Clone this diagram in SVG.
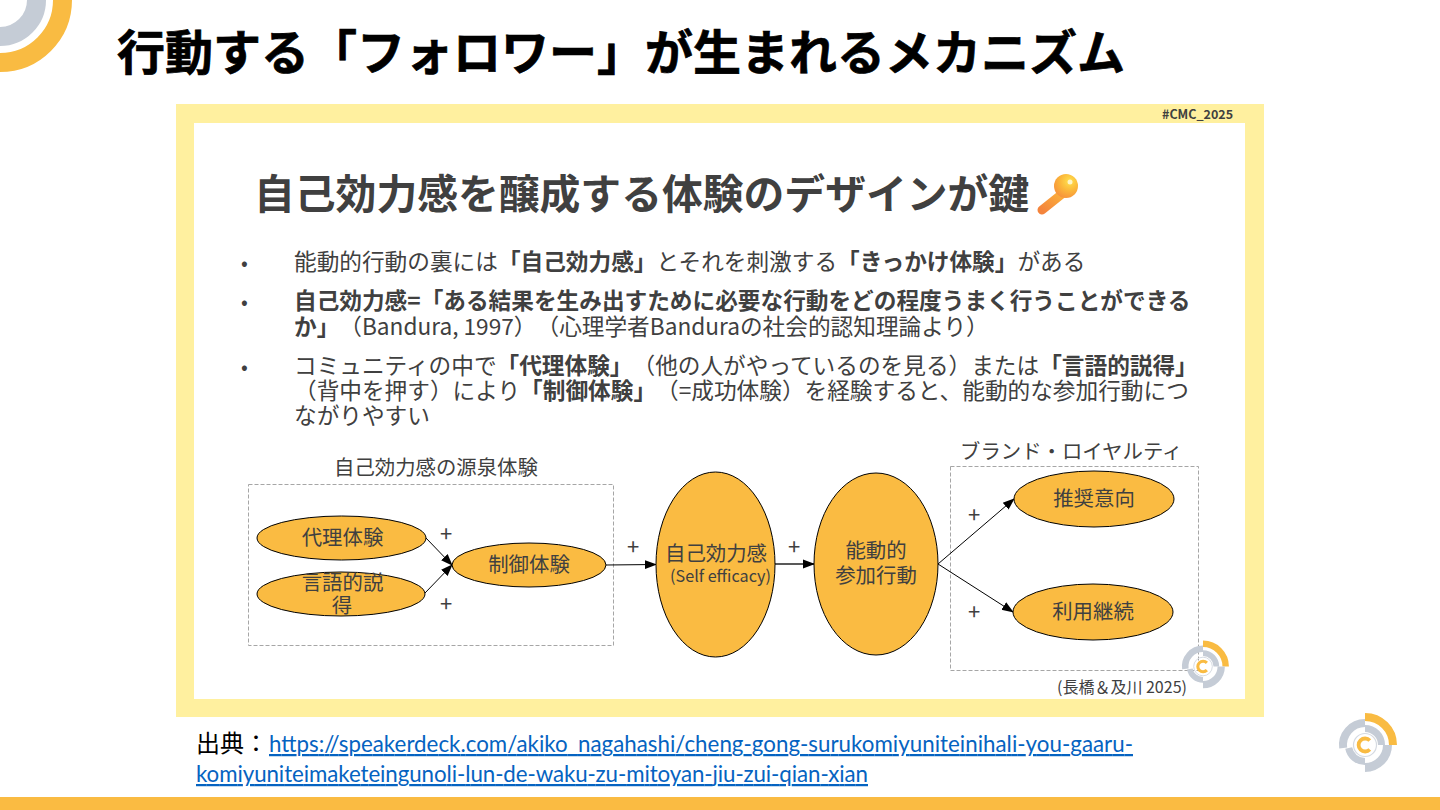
<svg xmlns="http://www.w3.org/2000/svg" width="1440" height="810" viewBox="0 0 1440 810">
<style>
text{font-family:"Noto Sans CJK JP",sans-serif;fill:#404040;text-spacing-trim:space-all}
.title{font-size:48px;font-weight:700;fill:#000;stroke:#000;stroke-width:.7px}
.h{font-size:40.800px;font-weight:700}
.b{font-size:22.660px}
.b tspan{font-weight:700}
.dot{font-size:20px}
.n{fill:#fabb42;stroke:#000;stroke-width:1}
.l{font-size:20.400px;text-anchor:middle}
.p{font-size:22px;text-anchor:middle}
.box{fill:none;stroke:#a6a6a6;stroke-width:1;stroke-dasharray:4 2}
.c{fill:none;stroke:#000;stroke-width:1;marker-end:url(#ah)}
.u{font-family:Lato,sans-serif;font-size:22.300px;fill:#0563c1;text-decoration:underline}
</style>
<defs>
<marker id="ah" viewBox="0 0 12 12" refX="11" refY="6" markerUnits="userSpaceOnUse" markerWidth="12" markerHeight="12" orient="auto"><path d="M0 1.500L12 6L0 10.500Z" fill="#000"/></marker>
<radialGradient id="kg" cx="0.65" cy="0.3" r="0.8"><stop offset="0" stop-color="#ffe14d"/><stop offset="0.5" stop-color="#fbb63a"/><stop offset="1" stop-color="#f68d3c"/></radialGradient>
<linearGradient id="ks" x1="1" y1="0" x2="0" y2="1"><stop offset="0" stop-color="#fbb03a"/><stop offset="1" stop-color="#f4843c"/></linearGradient>
<g id="logo" fill="none">
<path d="M0 -28A28 28 0 0 1 28 0" stroke="#f9bb42" stroke-width="8"/>
<path d="M0 -22A22 22 0 0 0 -21.800 3" stroke="#c5ccd6" stroke-width="8"/>
<path d="M22.500 0A22.500 22.500 0 0 1 0 22.500" stroke="#c5ccd6" stroke-width="9"/>
<path d="M0 -16.500A16.500 16.500 0 0 1 16.500 0" stroke="#c5ccd6" stroke-width="7"/>
<path d="M-16.300 3A16.500 16.500 0 0 0 0 16.500" stroke="#c5ccd6" stroke-width="7"/>
<circle r="11.500" stroke="#d5dae1" stroke-width="1.200"/>
<path d="M4.800 -4.500A6.500 6.500 0 1 0 4.800 4.500" stroke="#f9bb42" stroke-width="3.800"/>
</g>
</defs>
<rect width="1440" height="810" fill="#fff"/>
<rect y="797" width="1440" height="13" fill="#fabb42"/>
<g id="corner-logo" fill="none">
<path d="M62.500 0A62.500 62.500 0 0 1 0 62.500" stroke="#f9bb42" stroke-width="19"/>
<path d="M36.500 0A36.500 36.500 0 0 1 0 36.500" stroke="#c5ccd6" stroke-width="19"/>
</g>
<text class="title" x="117" y="70">行動する「フォロワー」が生まれるメカニズム</text>
<g id="card">
<rect x="176" y="104" width="1088" height="613" fill="#fff09f"/>
<rect x="194" y="123" width="1051" height="576" fill="#fff"/>
<text x="1162" y="119" font-size="12.500" font-weight="700">#CMC_2025</text>
<text class="h" x="254" y="209">自己効力感を醸成する体験のデザインが鍵</text>
<g id="key">
<path d="M1062 194L1042 210" stroke="url(#ks)" stroke-width="9" stroke-linecap="round" fill="none"/>
<circle cx="1066" cy="186" r="12" fill="url(#kg)"/>
<circle cx="1070" cy="182" r="2.500" fill="#fff6c8"/>
</g>
<g id="bullets">
<text class="dot" x="241" y="270">•</text>
<text class="dot" x="241" y="309">•</text>
<text class="dot" x="241" y="374">•</text>
<text class="b" x="294" y="270">能動的行動の裏には<tspan>「自己効力感」</tspan>とそれを刺激する<tspan>「きっかけ体験」</tspan>がある</text>
<text class="b" x="294" y="309"><tspan>自己効力感=「ある結果を生み出すために必要な行動をどの程度うまく行うことができる</tspan></text>
<text class="b" x="294" y="335"><tspan>か」</tspan>（Bandura, 1997）（心理学者Banduraの社会的認知理論より）</text>
<text class="b" x="294" y="374">コミュニティの中で<tspan>「代理体験」</tspan>（他の人がやっているのを見る）または<tspan>「言語的説得」</tspan></text>
<text class="b" x="294" y="399">（背中を押す）により<tspan>「制御体験」</tspan>（=成功体験）を経験すると、能動的な参加行動につ</text>
<text class="b" x="294" y="424">ながりやすい</text>
</g>
<g id="frames">
<rect class="box" x="248.500" y="484.500" width="365" height="161"/>
<rect class="box" x="950.500" y="466.500" width="248" height="204"/>
<text x="334" y="475" font-size="20.400">自己効力感の源泉体験</text>
<text x="960" y="459" font-size="20.400">ブランド・ロイヤルティ</text>
</g>
<g id="connectors">
<path class="c" d="M426 538L452 565"/>
<path class="c" d="M425 593L452 565"/>
<path class="c" d="M606 565L656 564.500"/>
<path class="c" d="M775 564H814" style="stroke:#595959;stroke-width:2"/>
<path class="c" d="M938 564L1014 499"/>
<path class="c" d="M938 564L1013 612"/>
</g>
<g id="plus-signs">
<text class="p" x="446" y="542">+</text>
<text class="p" x="446" y="612">+</text>
<text class="p" x="633" y="555">+</text>
<text class="p" x="794" y="555">+</text>
<text class="p" x="974" y="523">+</text>
<text class="p" x="974" y="620">+</text>
</g>
<g id="node-vicarious"><ellipse class="n" cx="341.500" cy="538" rx="84.500" ry="22"/><text class="l" x="342.500" y="545">代理体験</text></g>
<g id="node-verbal"><ellipse class="n" cx="341" cy="594" rx="84" ry="22"/><text class="l" x="342.500" y="590">言語的説</text><text class="l" x="342" y="613">得</text></g>
<g id="node-mastery"><ellipse class="n" cx="529" cy="565" rx="77" ry="22"/><text class="l" x="529" y="572">制御体験</text></g>
<g id="node-efficacy"><ellipse class="n" cx="715.500" cy="564.500" rx="59.500" ry="92.500"/><text class="l" x="716" y="561">自己効力感</text><text x="720.500" y="582" font-size="16.200" text-anchor="middle">(Self efficacy)</text></g>
<g id="node-participation"><ellipse class="n" cx="876" cy="564" rx="62" ry="91"/><text class="l" x="876" y="558">能動的</text><text class="l" x="876" y="583">参加行動</text></g>
<g id="node-recommend"><ellipse class="n" cx="1094" cy="499" rx="80" ry="28"/><text class="l" x="1094" y="506">推奨意向</text></g>
<g id="node-continue"><ellipse class="n" cx="1093" cy="612" rx="80" ry="28"/><text class="l" x="1093" y="619">利用継続</text></g>
<text x="1057" y="693" font-size="16">(長橋＆及川 2025)</text>
<use href="#logo" transform="translate(1203 666.500) scale(.81)"/>
</g>
<g id="source">
<text x="196" y="752" font-size="24" style="fill:#000">出典：</text>
<text class="u" x="269" y="752" textLength="864">https://speakerdeck.com/akiko_nagahashi/cheng-gong-surukomiyuniteinihali-you-gaaru-</text>
<text class="u" x="196" y="782" textLength="672">komiyuniteimaketeingunoli-lun-de-waku-zu-mitoyan-jiu-zui-qian-xian</text>
</g>
<use id="footer-logo" href="#logo" transform="translate(1365 745)"/>
</svg>
